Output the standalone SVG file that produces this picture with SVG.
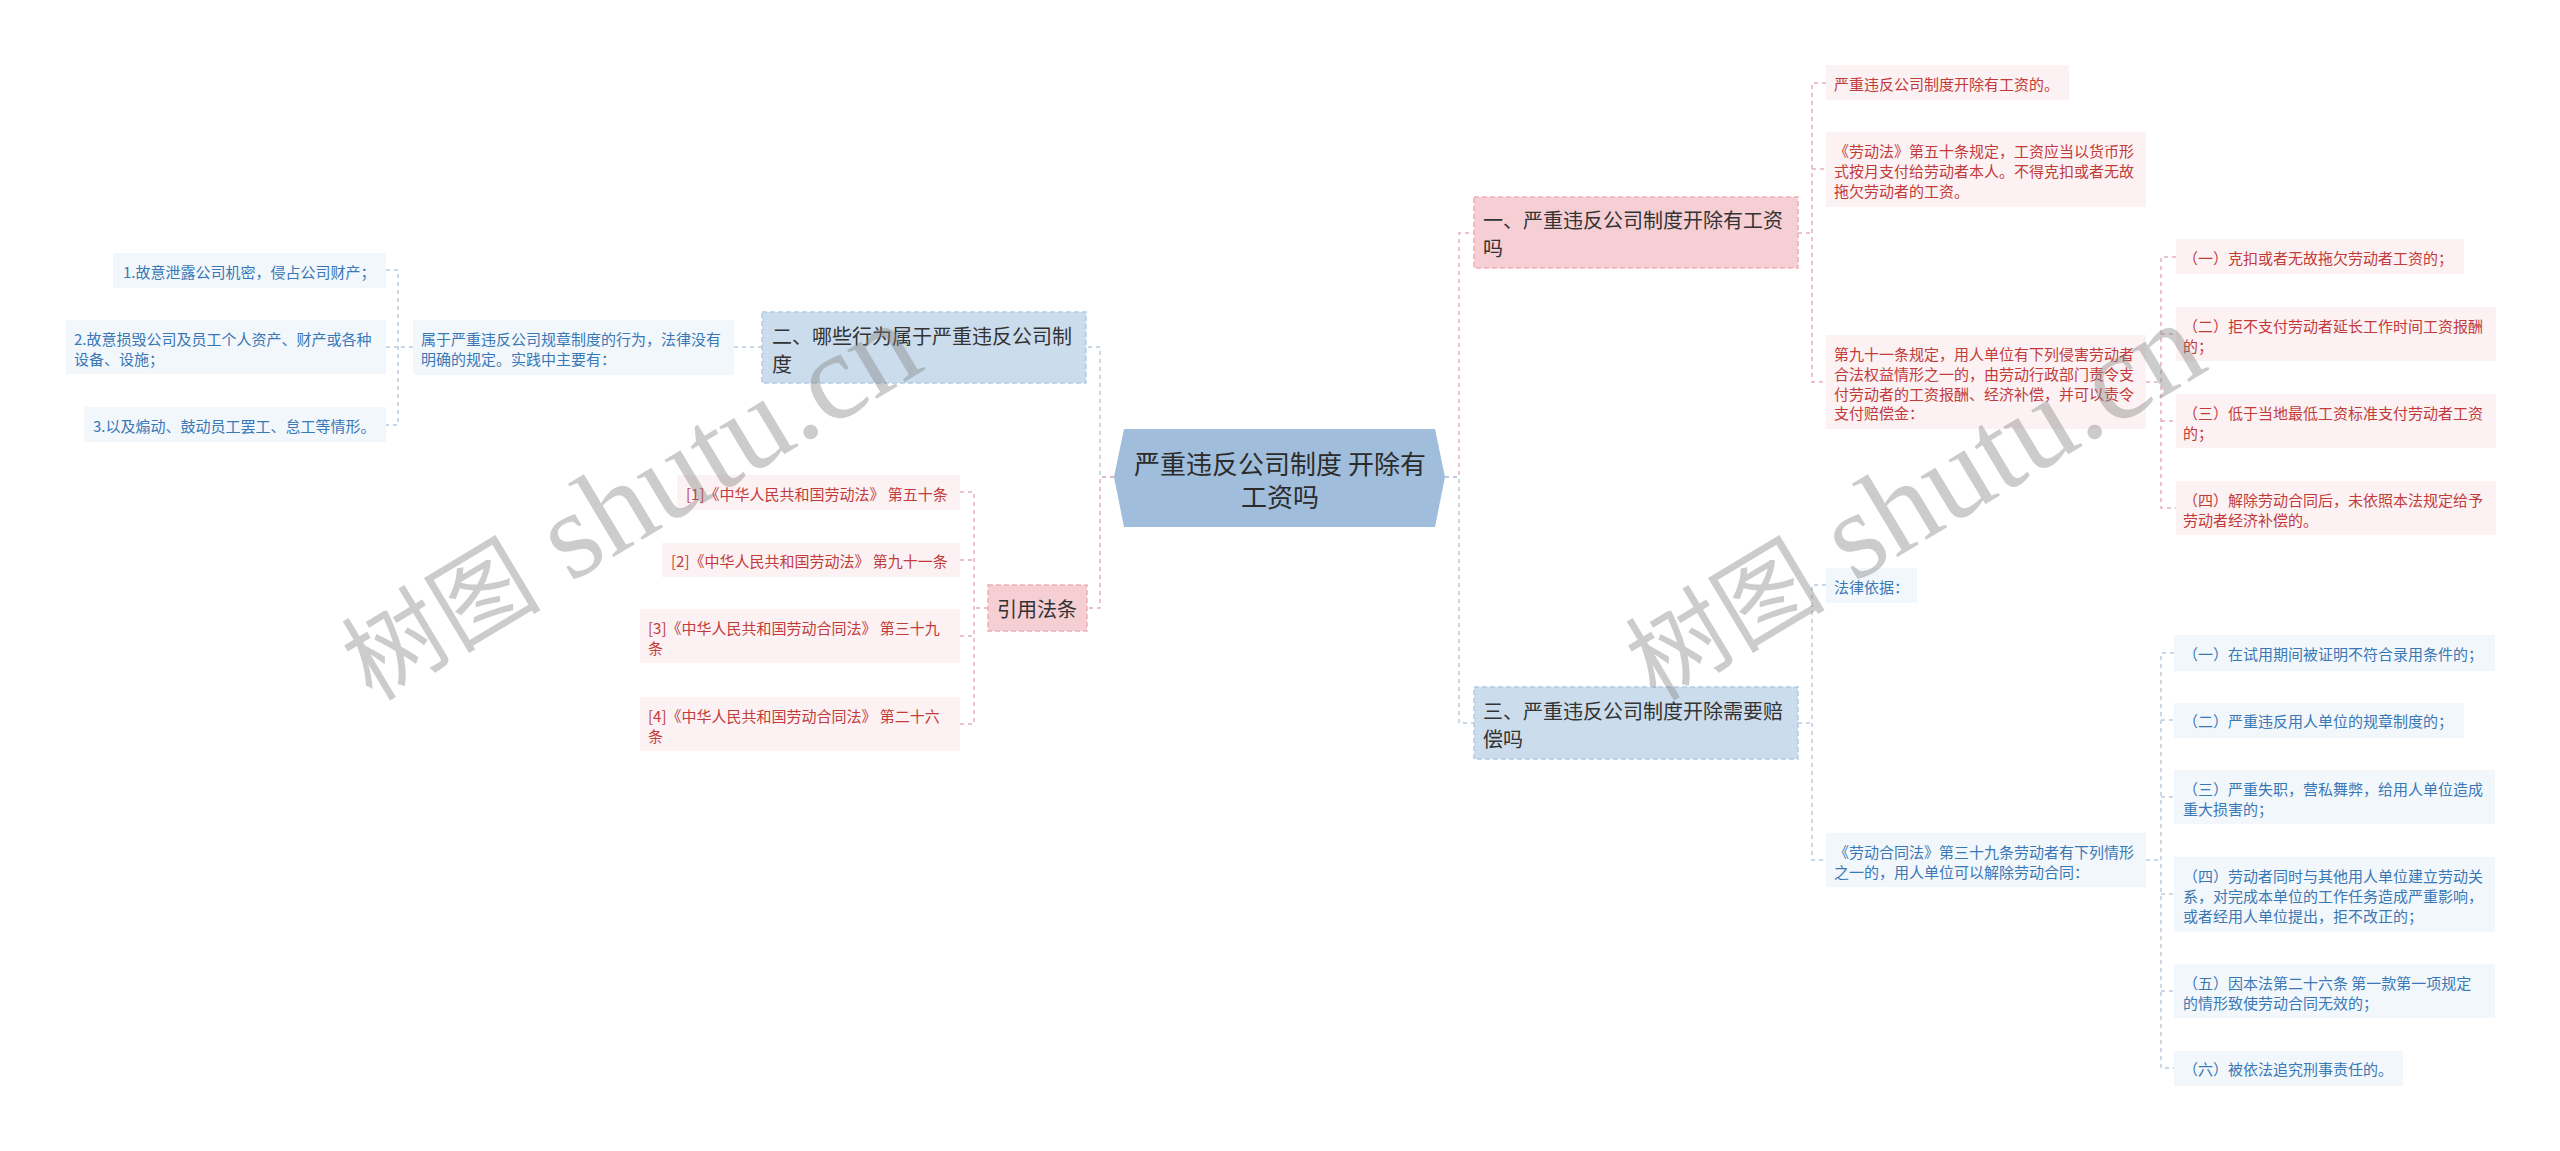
<svg xmlns="http://www.w3.org/2000/svg" width="2560" height="1151" viewBox="0 0 2560 1151">
<style>
text{font-family:"Noto Sans CJK SC","Noto Sans",sans-serif;dominant-baseline:central}
.s{font-size:15px}
.m{font-size:20px;fill:#333}
.c{font-size:26px;fill:#2b2b2b;text-anchor:middle}
.rt{fill:#c23b3b}
.bt{fill:#3a78b5}
.rl{fill:#fdf2f3}
.bl{fill:#f2f7fc}
.r1{fill:#f5cfd3;stroke:#eab0b6;stroke-width:1.5;stroke-dasharray:5 3}
.b1{fill:#cbdcec;stroke:#b3cae2;stroke-width:1.5;stroke-dasharray:5 3}
.lr{fill:none;stroke:#e6b0b6;stroke-width:1.5;stroke-dasharray:4 4}
.lb{fill:none;stroke:#b8cadf;stroke-width:1.5;stroke-dasharray:4 4}
.wm{fill:#808080;fill-opacity:0.4}
</style>
<g id="connectors">
<path class="lb" d="M1114 477H1100V347H1086"/>
<path class="lr" d="M1114 477H1100V608H1087"/>
<path class="lb" d="M734 347H762"/>
<path class="lb" d="M413 347H398M386 270H398V425H386M386 347H398"/>
<path class="lr" d="M988 608H974M960 492H974V724H960M960 560H974M960 636H974"/>
<path class="lr" d="M1445 477H1459V233H1474"/>
<path class="lb" d="M1445 477H1459V723H1474"/>
<path class="lr" d="M1798 233H1812M1826 83H1812V382H1826M1812 169H1826"/>
<path class="lr" d="M2146 382H2161M2176 257H2161V508H2176M2161 334H2176M2161 421H2176"/>
<path class="lb" d="M1798 723H1812M1826 585H1812V860H1826"/>
<path class="lb" d="M2146 860H2161M2174 653H2161V1068H2174M2161 720H2174M2161 797H2174M2161 894H2174M2161 991H2174"/>
</g>
<g id="center">
<polygon points="1114,477 1124,429 1435,429 1445,477 1435,527 1124,527" fill="#a0bddb"/>
<text class="c" x="1280" y="462">严重违反公司制度 开除有</text>
<text class="c" x="1280" y="495">工资吗</text>
</g>
<g id="n2">
<rect class="b1" x="762" y="312" width="324" height="71"/>
<text class="m" x="772" y="335">二、哪些行为属于严重违反公司制</text>
<text class="m" x="772" y="363">度</text>
</g>
<g id="n2a">
<rect class="bl" x="413" y="320" width="321" height="55"/>
<text class="s bt" x="421" y="338">属于严重违反公司规章制度的行为，法律没有</text>
<text class="s bt" x="421" y="358">明确的规定。实践中主要有：</text>
</g>
<g id="n2a1">
<rect class="bl" x="113" y="253" width="273" height="35"/>
<text class="s bt" x="123" y="271">1.故意泄露公司机密，侵占公司财产；</text>
</g>
<g id="n2a2">
<rect class="bl" x="66" y="320" width="320" height="54"/>
<text class="s bt" x="74" y="338">2.故意损毁公司及员工个人资产、财产或各种</text>
<text class="s bt" x="74" y="358">设备、设施；</text>
</g>
<g id="n2a3">
<rect class="bl" x="84" y="407" width="302" height="35"/>
<text class="s bt" x="93" y="425">3.以及煽动、鼓动员工罢工、怠工等情形。</text>
</g>
<g id="nref">
<rect class="r1" x="988" y="585" width="99" height="46"/>
<text class="m" x="1037" y="608" text-anchor="middle">引用法条</text>
</g>
<g id="ref1">
<rect class="rl" x="677" y="475" width="283" height="35"/>
<text class="s rt" x="686" y="493">[1]《中华人民共和国劳动法》 第五十条</text>
</g>
<g id="ref2">
<rect class="rl" x="662" y="543" width="298" height="34"/>
<text class="s rt" x="671" y="560">[2]《中华人民共和国劳动法》 第九十一条</text>
</g>
<g id="ref3">
<rect class="rl" x="640" y="609" width="320" height="54"/>
<text class="s rt" x="648" y="627">[3]《中华人民共和国劳动合同法》 第三十九</text>
<text class="s rt" x="648" y="647">条</text>
</g>
<g id="ref4">
<rect class="rl" x="640" y="697" width="320" height="54"/>
<text class="s rt" x="648" y="715">[4]《中华人民共和国劳动合同法》 第二十六</text>
<text class="s rt" x="648" y="735">条</text>
</g>
<g id="n1">
<rect class="r1" x="1474" y="197" width="324" height="71"/>
<text class="m" x="1483" y="219">一、严重违反公司制度开除有工资</text>
<text class="m" x="1483" y="247">吗</text>
</g>
<g id="n1a">
<rect class="rl" x="1826" y="65" width="243" height="35"/>
<text class="s rt" x="1834" y="83">严重违反公司制度开除有工资的。</text>
</g>
<g id="n1b">
<rect class="rl" x="1826" y="132" width="320" height="75"/>
<text class="s rt" x="1834" y="150">《劳动法》第五十条规定，工资应当以货币形</text>
<text class="s rt" x="1834" y="170">式按月支付给劳动者本人。不得克扣或者无故</text>
<text class="s rt" x="1834" y="190">拖欠劳动者的工资。</text>
</g>
<g id="n1c">
<rect class="rl" x="1826" y="335" width="320" height="94"/>
<text class="s rt" x="1834" y="353">第九十一条规定，用人单位有下列侵害劳动者</text>
<text class="s rt" x="1834" y="373">合法权益情形之一的，由劳动行政部门责令支</text>
<text class="s rt" x="1834" y="393">付劳动者的工资报酬、经济补偿，并可以责令</text>
<text class="s rt" x="1834" y="412">支付赔偿金：</text>
</g>
<g id="n1c1">
<rect class="rl" x="2176" y="239" width="288" height="35"/>
<text class="s rt" x="2183" y="257">（一）克扣或者无故拖欠劳动者工资的；</text>
</g>
<g id="n1c2">
<rect class="rl" x="2176" y="307" width="320" height="54"/>
<text class="s rt" x="2183" y="325">（二）拒不支付劳动者延长工作时间工资报酬</text>
<text class="s rt" x="2183" y="345">的；</text>
</g>
<g id="n1c3">
<rect class="rl" x="2176" y="394" width="320" height="54"/>
<text class="s rt" x="2183" y="412">（三）低于当地最低工资标准支付劳动者工资</text>
<text class="s rt" x="2183" y="432">的；</text>
</g>
<g id="n1c4">
<rect class="rl" x="2176" y="481" width="320" height="54"/>
<text class="s rt" x="2183" y="499">（四）解除劳动合同后，未依照本法规定给予</text>
<text class="s rt" x="2183" y="519">劳动者经济补偿的。</text>
</g>
<g id="n3">
<rect class="b1" x="1474" y="687" width="324" height="72"/>
<text class="m" x="1483" y="710">三、严重违反公司制度开除需要赔</text>
<text class="m" x="1483" y="738">偿吗</text>
</g>
<g id="n3a">
<rect class="bl" x="1826" y="568" width="91" height="35"/>
<text class="s bt" x="1834" y="586">法律依据：</text>
</g>
<g id="n3b">
<rect class="bl" x="1826" y="833" width="320" height="54"/>
<text class="s bt" x="1834" y="851">《劳动合同法》第三十九条劳动者有下列情形</text>
<text class="s bt" x="1834" y="871">之一的，用人单位可以解除劳动合同：</text>
</g>
<g id="n3b1">
<rect class="bl" x="2174" y="635" width="321" height="36"/>
<text class="s bt" x="2183" y="653">（一）在试用期间被证明不符合录用条件的；</text>
</g>
<g id="n3b2">
<rect class="bl" x="2174" y="703" width="290" height="35"/>
<text class="s bt" x="2183" y="720">（二）严重违反用人单位的规章制度的；</text>
</g>
<g id="n3b3">
<rect class="bl" x="2174" y="770" width="321" height="54"/>
<text class="s bt" x="2183" y="788">（三）严重失职，营私舞弊，给用人单位造成</text>
<text class="s bt" x="2183" y="808">重大损害的；</text>
</g>
<g id="n3b4">
<rect class="bl" x="2174" y="857" width="321" height="75"/>
<text class="s bt" x="2183" y="875">（四）劳动者同时与其他用人单位建立劳动关</text>
<text class="s bt" x="2183" y="895">系，对完成本单位的工作任务造成严重影响，</text>
<text class="s bt" x="2183" y="915">或者经用人单位提出，拒不改正的；</text>
</g>
<g id="n3b5">
<rect class="bl" x="2174" y="964" width="321" height="54"/>
<text class="s bt" x="2183" y="982">（五）因本法第二十六条 第一款第一项规定</text>
<text class="s bt" x="2183" y="1002">的情形致使劳动合同无效的；</text>
</g>
<g id="n3b6">
<rect class="bl" x="2174" y="1051" width="229" height="35"/>
<text class="s bt" x="2183" y="1068">（六）被依法追究刑事责任的。</text>
</g>
<g id="watermarks">
<text class="wm" transform="translate(372,702) rotate(-31)" style="dominant-baseline:alphabetic"><tspan font-size="100">树图</tspan><tspan font-family="Liberation Serif" font-size="124"> shutu.cn</tspan></text>
<text class="wm" transform="translate(1656,702) rotate(-31)" style="dominant-baseline:alphabetic"><tspan font-size="100">树图</tspan><tspan font-family="Liberation Serif" font-size="124"> shutu.cn</tspan></text>
</g>
</svg>
